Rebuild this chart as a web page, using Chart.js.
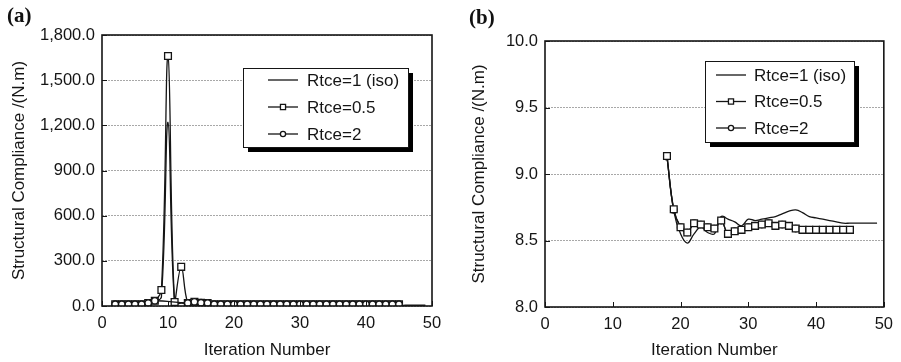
<!DOCTYPE html>
<html>
<head>
<meta charset="utf-8">
<script src="https://cdn.jsdelivr.net/npm/chart.js@4/dist/chart.umd.min.js"></script>
<style>
  body { margin: 0; background: #fff; width: 901px; height: 362px; position: relative; overflow: hidden; }
  .panel { position: absolute; top: 0; }
  .tag { position: absolute; font-family: 'Liberation Serif', 'DejaVu Serif', serif; font-weight: bold; font-size: 21px; color: #111; }
</style>
</head>
<body>
<div class="panel" style="left:0"><canvas id="chartA" width="450" height="362"></canvas></div>
<div class="panel" style="left:450px"><canvas id="chartB" width="451" height="362"></canvas></div>
<div class="tag" style="left:7px; top:3px">(a)</div>
<div class="tag" style="left:469px; top:5px">(b)</div>
<script>
// panel (a): iterations and compliance values
const itersA_iso = [2,3,4,5,6,7,8,9,10,11,12,13,14,15,16,17,18,19,20,21,22,23,24,25,26,27,28,29,30,31,32,33,34,35,36,37,38,39,40,41,42,43,44,45,46,47,48,49];
const valsA_iso = [10,10,10,10,12,15,30,60,1220,15,20,15,18,15,12,10,10,10,10,10,10,10,10,10,10,10,10,10,10,10,10,10,10,10,10,10,10,10,10,10,10,10,10,5,5,5,5,5];
const itersA = [2,3,4,5,6,7,8,9,10,11,12,13,14,15,16,17,18,19,20,21,22,23,24,25,26,27,28,29,30,31,32,33,34,35,36,37,38,39,40,41,42,43,44,45];
const valsA_05 = [12,12,12,12,12,20,35,106,1660,27,260,20,28,22,20,12,12,12,12,12,12,12,12,12,12,12,12,12,12,12,12,12,12,12,12,12,12,12,12,12,12,12,12,12];
const valsA_2 = [12,12,12,12,12,20,35,null,null,null,null,20,28,22,20,12,12,12,12,12,12,12,12,12,12,12,12,12,12,12,12,12,12,12,12,12,12,12,12,12,12,12,12,12];

// panel (b)
const itersB_iso = [18,19,20,21,22,23,24,25,26,27,28,29,30,31,32,33,34,35,36,37,38,39,40,41,42,43,44,45,46,47,48,49];
const valsB_iso = [9.13,8.72,8.55,8.48,8.55,8.60,8.56,8.55,8.68,8.66,8.64,8.61,8.66,8.65,8.66,8.67,8.68,8.70,8.72,8.73,8.71,8.68,8.67,8.66,8.65,8.64,8.63,8.63,8.63,8.63,8.63,8.63];
const itersB = [18,19,20,21,22,23,24,25,26,27,28,29,30,31,32,33,34,35,36,37,38,39,40,41,42,43,44,45];
const valsB_05 = [9.135,8.735,8.60,8.56,8.63,8.62,8.60,8.59,8.65,8.55,8.57,8.58,8.60,8.61,8.62,8.63,8.61,8.62,8.61,8.59,8.58,8.58,8.58,8.58,8.58,8.58,8.58,8.58];
const valsB_2 = [9.13,8.73,8.60,8.56,8.63,8.62,8.60,8.59,8.65,8.55,8.57,8.58,8.60,8.61,8.62,8.63,8.61,8.62,8.61,8.59,8.58,8.58,8.58,8.58,8.58,8.58,8.58,8.58];

const labels = ['Rtce=1 (iso)', 'Rtce=0.5', 'Rtce=2'];
const xTicks = [0, 10, 20, 30, 40, 50];

const FONT = "'Liberation Sans', Arial, sans-serif";
const INK = '#151515';

function pts(xs, ys) {
    var out = [];
    for (let i = 0; i < xs.length; i++) out.push({ x: xs[i], y: ys[i] });
    return out;
}

function lineSet(label, xs, ys, style, order) {
    return {
        label: label,
        data: pts(xs, ys),
        borderColor: INK,
        backgroundColor: '#fff',
        borderWidth: 1.3,
        pointStyle: style || false,
        pointRadius: style == 'rect' ? 4.8 : (style ? 3.2 : 0),
        pointBorderWidth: 1.3,
        pointBackgroundColor: '#fff',
        pointBorderColor: INK,
        tension: 0.4,
        spanGaps: true,
        order: order
    };
}

// frame, inward ticks and the boxed legend with its shadow
const framePlugin = {
    id: 'frame',
    afterDatasetsDraw(chart) {
        const ctx = chart.ctx;
        const a = chart.chartArea;
        const xs = chart.scales.x, ys = chart.scales.y;
        ctx.save();
        ctx.strokeStyle = INK;
        ctx.lineWidth = 1.6;
        ctx.strokeRect(a.left, a.top, a.right - a.left, a.bottom - a.top);
        ctx.lineWidth = 1;
        ctx.beginPath();
        ys.ticks.forEach(function (t) {
            var py = Math.round(ys.getPixelForValue(t.value)) + 0.5;
            ctx.moveTo(a.left, py); ctx.lineTo(a.left + 5, py);
        });
        xs.ticks.forEach(function (t) {
            var px = Math.round(xs.getPixelForValue(t.value)) + 0.5;
            ctx.moveTo(px, a.bottom); ctx.lineTo(px, a.bottom - 5);
        });
        ctx.stroke();
        ctx.restore();
    },
    afterDraw(chart, args, opts) {
        const ctx = chart.ctx;
        ctx.save();
        ctx.fillStyle = '#000';
        ctx.fillRect(opts.x + 5, opts.y + 5, opts.w, opts.h);
        ctx.fillStyle = '#fff';
        ctx.fillRect(opts.x, opts.y, opts.w, opts.h);
        ctx.strokeStyle = INK;
        ctx.lineWidth = 1;
        ctx.strokeRect(opts.x + 0.5, opts.y + 0.5, opts.w, opts.h);
        ctx.font = '17px ' + FONT;
        ctx.textBaseline = 'middle';
        ctx.fillStyle = INK;
        const legendOrder = [0, 1, 2];
        legendOrder.forEach(function (di, row) {
            var ds = chart.data.datasets[di];
            var y = opts.y + opts.first + row * opts.step;
            var x0 = opts.x + opts.sx, x1 = opts.x + opts.sx + 30;
            ctx.lineWidth = 1.3;
            ctx.beginPath(); ctx.moveTo(x0, y); ctx.lineTo(x1, y); ctx.stroke();
            if (ds.pointStyle) {
                ctx.fillStyle = '#fff';
                ctx.strokeStyle = INK;
                Chart.helpers.drawPoint(ctx, {
                    pointStyle: ds.pointStyle, radius: ds.pointStyle == 'rect' ? 3.6 : 2.6,
                    borderWidth: 1.2, rotation: 0
                }, (x0 + x1) / 2, y);
                ctx.fillStyle = INK;
            }
            ctx.fillText(ds.label, opts.x + opts.tx, y + 1);
        });
        ctx.restore();
    }
};

function makeChart(id, datasets, yMin, yMax, yStep, fmt, box, fit) {
    return new Chart(document.getElementById(id), {
        type: 'line',
        data: { datasets: datasets },
        plugins: [framePlugin],
        options: {
            responsive: false,
            animation: false,
            layout: { padding: { left: 0, top: fit.top, right: fit.right, bottom: 0 } },
            scales: {
                x: {
                    type: 'linear', min: 0, max: 50,
                    afterBuildTicks: function (s) { s.ticks = xTicks.map(v => ({ value: v })); },
                    afterFit: function (s) { s.height = fit.xh; },
                    grid: { display: false, drawTicks: false },
                    border: { display: false },
                    ticks: { color: INK, font: { family: FONT, size: 16.5 }, padding: 8, maxRotation: 0 },
                    title: { display: true, text: 'Iteration Number', color: INK, font: { family: FONT, size: 17 }, padding: { top: 0, bottom: 1 } }
                },
                y: {
                    min: yMin, max: yMax,
                    afterFit: function (s) { s.width = fit.yw; },
                    ticks: { stepSize: yStep, color: INK, font: { family: FONT, size: 16.5 }, padding: 7, callback: fmt },
                    grid: { color: '#a8a8a8', lineWidth: 1, drawTicks: false },
                    border: { display: false, dash: [2, 1] },
                    title: { display: true, text: 'Structural Compliance /(N.m)', color: INK, font: { family: FONT, size: 17 }, padding: { top: fit.tp, bottom: 0 } }
                }
            },
            plugins: {
                legend: { display: false },
                tooltip: { enabled: false },
                frame: box
            }
        }
    });
}

makeChart('chartA', [
    lineSet(labels[0], itersA_iso, valsA_iso, false, 2),
    lineSet(labels[1], itersA, valsA_05, 'rect', 1),
    lineSet(labels[2], itersA, valsA_2, 'circle', 0)
], 0, 1800, 300,
    function (v) { return v.toLocaleString('en-US', { minimumFractionDigits: 1, maximumFractionDigits: 1 }); },
    { x: 243, y: 68, w: 165, h: 79, first: 12, step: 27, sx: 25, tx: 64 },
    { top: 35, right: 18, xh: 56, yw: 102, tp: 9 });

makeChart('chartB', [
    lineSet(labels[0], itersB_iso, valsB_iso, false, 2),
    lineSet(labels[1], itersB, valsB_05, 'rect', 0),
    lineSet(labels[2], itersB, valsB_2, 'circle', 1)
], 8, 10, 0.5,
    function (v) { return v.toFixed(1); },
    { x: 255, y: 61, w: 149, h: 81, first: 14, step: 26.5, sx: 11, tx: 49 },
    { top: 41, right: 14, xh: 55, yw: 95, tp: 19 });
</script>
</body>
</html>
